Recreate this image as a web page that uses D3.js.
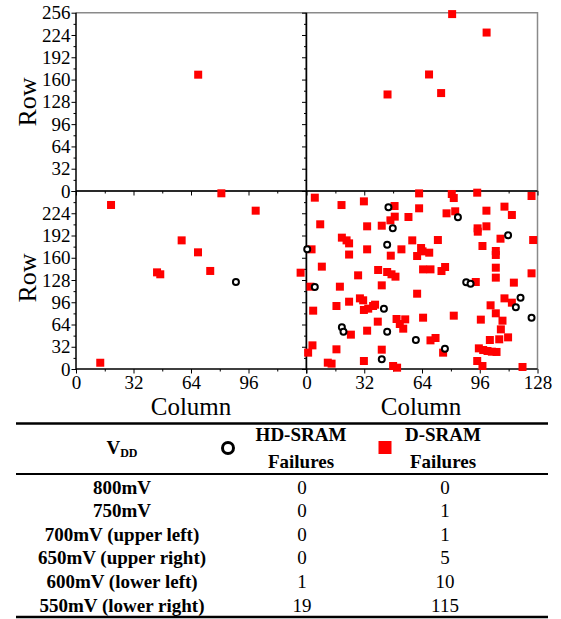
<!DOCTYPE html>
<html><head><meta charset="utf-8">
<script src="https://cdn.jsdelivr.net/npm/d3@7/dist/d3.min.js"></script>
<style>body{margin:0;background:#fff}svg{display:block}</style>
</head><body><svg id="c" width="561" height="619"></svg>
<script>
// ---- data ----
const yTickValues = [0, 32, 64, 96, 128, 160, 192, 224, 256];
const xTickValues = [0, 32, 64, 96, 128];

// D-SRAM failures [column, row]
const d700 = [[68, 167]];
const d650 = [[80.7, 254], [99.8, 227.5], [67.9, 167.3], [44.9, 138.6], [74.6, 140.6]];
const d600 = [[19.5, 235.9], [80.9, 252.7], [100, 227.7], [58.8, 185], [67.9, 167.8],
              [45.1, 139], [46.9, 136.2], [74.7, 141], [13.5, 9], [125, 138.5]];
const d550 = [
  [4.6,246.4],[19.4,235.8],[31.8,241.1],[62.4,252.6],[80.5,251.7],[81.6,245.9],[94.6,253.6],[124.7,248.8],
  [48.8,234.4],[62.4,231.1],[82.4,226.8],[77.6,223.9],[99.7,227.7],[109.7,233.5],[113.8,221.5],
  [7.6,208.1],[33.6,205.2],[41.7,206.1],[46.5,213.8],[48.9,219.1],[56.5,218.6],[94.8,202.3],[94.9,197.5],[99.7,205.2],
  [19.6,188.9],[22.2,185],[23.6,180.7],[33.6,172.1],[58.6,185],[72.8,185.5],[52.6,172.1],[63.5,174],
  [61.3,162.5],[64.3,169.2],[68,167.3],[46.7,163],[23.6,164.6],[2.8,172.1],[107.5,187.4],[125.6,185.5],
  [97.5,176.9],[104.9,169.7],[104.9,164],[8.5,147.2],[28.6,134.7],[39.7,142.4],[44.7,139.5],[47.1,136.2],
  [49.3,132.8],[64.6,143.3],[68.7,143.3],[74.8,140.9],[76.8,146.7],[104.9,145.7],[104.9,131.4],[124.7,137.6],
  [18.5,118.4],[41.7,120.3],[2.2,118.4],[93.8,125.1],[114.9,124.2],[61.3,108.3],[23.6,96.8],[16.6,90.6],
  [29.6,101.6],[31.4,98.8],[31.8,84.9],[34.2,86.8],[36.9,90.6],[38,92.5],[3.7,83.9],[102,91.6],
  [109.7,101.6],[113.8,95.4],[104.9,80.1],[108.6,69.5],[107.7,57],[106.8,42.7],[111.7,45.5],[101.6,41.7],
  [96.6,71],[81.6,76.7],[64.6,73.8],[49.9,71.9],[54.7,71.4],[51.7,64.7],[53.6,58],[39.5,68.1],
  [33.6,55.1],[24.6,49.4],[3.3,34],[0.9,23.5],[16.6,28.3],[41.7,27.8],[68.7,41.2],[71.5,44.6],
  [75.7,23.5],[95.5,29.7],[97.9,27.3],[100.3,25.9],[102.7,24.9],[105.3,24.5],[94.6,11.5],[97.5,4.3],
  [119.7,2.9],[31.8,11.5],[11.8,9.1],[13.9,7.7],[48,4.3],[50.2,1.9]
];

// HD-SRAM failures [column, row]
const hd600 = [[89, 125]];
const hd550 = [
  [45.4,232.5],[47.8,202.3],[44.7,178.8],[0.4,172.1],[83.9,218.1],[111.7,192.2],[4.6,117.9],
  [88.5,124.6],[90.9,122.7],[118.6,102.6],[116,88.7],[124.7,73.8],[42.9,86.8],[19.6,59.9],
  [20.5,53.7],[44.7,53.7],[60.6,41.7],[76.7,29.2],[41.7,13.9]
];

// table
const vddLabels = ["800mV", "750mV", "700mV (upper left)", "650mV (upper right)", "600mV (lower left)", "550mV (lower right)"];
const hdFailures = [0, 0, 0, 0, 1, 19];
const dFailures = [0, 1, 1, 5, 10, 115];

// ---- drawing ----
const svg = d3.select("#c");
const FONT = "Liberation Serif, Times New Roman, serif";

const xL = d3.scaleLinear().domain([0, 128]).range([76, 306]);
const xR = d3.scaleLinear().domain([0, 128]).range([306.5, 537.5]);
const yT = d3.scaleLinear().domain([0, 256]).range([191, 12.7]);
const yB = d3.scaleLinear().domain([0, 256]).range([369, 191]);

const panels = [
  {x: xL, y: yT, d: d700, hd: [], yLab: yTickValues, xLab: null},
  {x: xR, y: yT, d: d650, hd: [], yLab: null, xLab: null},
  {x: xL, y: yB, d: d600, hd: hd600, yLab: yTickValues.filter(v => v < 256), xLab: xTickValues.filter(v => v < 128)},
  {x: xR, y: yB, d: d550, hd: hd550, yLab: null, xLab: xTickValues}
];

const minorVals = d3.range(16, 256, 32);
const minorX = d3.range(16, 128, 32);

// frames (gray top & right)
panels.forEach(p => {
  const [x0, x1] = p.x.range(), [y0, y1] = p.y.range();
  svg.append("path")
    .attr("d", `M${x0},${y1}H${x1}V${y0}`)
    .attr("fill", "none").attr("stroke", "#8a8a8a").attr("stroke-width", 1.5);
});

panels.forEach(p => {
  const [x0, x1] = p.x.range(), [y0, y1] = p.y.range();
  const gy = svg.append("g").attr("transform", `translate(${x0},0)`);
  gy.call(d3.axisLeft(p.y).tickValues(minorVals).tickSize(2.5).tickFormat(""));
  const gy2 = svg.append("g").attr("transform", `translate(${x0},0)`);
  gy2.call(d3.axisLeft(p.y).tickValues(yTickValues).tickSize(4.5).tickPadding(1)
    .tickFormat(d => (p.yLab && p.yLab.includes(d)) ? d : ""));
  const gx = svg.append("g").attr("transform", `translate(0,${y0})`);
  gx.call(d3.axisBottom(p.x).tickValues(minorX).tickSize(2.5).tickFormat(""));
  const gx2 = svg.append("g").attr("transform", `translate(0,${y0})`);
  gx2.call(d3.axisBottom(p.x).tickValues(xTickValues).tickSize(4.5)
    .tickFormat(d => (p.xLab && p.xLab.includes(d)) ? d : ""));
  gx2.selectAll("text").attr("y", 20).attr("dy", 0);
  [gy, gy2, gx, gx2].forEach(g => {
    g.attr("font-family", FONT);
    g.select(".domain").remove();
    g.selectAll("line").attr("stroke", "#000").attr("stroke-width", 1);
    g.selectAll("text").attr("font-family", FONT).attr("font-size", 19).attr("fill", "#000");
  });
  svg.append("path").attr("d", `M${x0},${y1}V${y0}H${x1}`)
    .attr("fill", "none").attr("stroke", "#000").attr("stroke-width", 1.5);
});

// markers
panels.forEach(p => {
  svg.append("g").selectAll("rect").data(p.d).join("rect")
    .attr("x", d => p.x(d[0]) - 4).attr("y", d => p.y(d[1]) - 4)
    .attr("width", 8).attr("height", 8).attr("fill", "#ff0000");
});
panels.forEach(p => {
  svg.append("g").selectAll("circle").data(p.hd).join("circle")
    .attr("cx", d => p.x(d[0])).attr("cy", d => p.y(d[1])).attr("r", 3)
    .attr("fill", "#fff").attr("stroke", "#000").attr("stroke-width", 2);
});

// axis titles
[102, 278].forEach(cy => {
  svg.append("text").attr("transform", `translate(36,${cy}) rotate(-90)`)
    .attr("text-anchor", "middle").attr("font-family", FONT).attr("font-size", 26).text("Row");
});
[191, 421].forEach(cx => {
  svg.append("text").attr("x", cx).attr("y", 415).attr("text-anchor", "middle")
    .attr("font-family", FONT).attr("font-size", 25).text("Column");
});

// ---- table ----
const tX0 = 16, tX1 = 548;
svg.append("line").attr("x1", tX0).attr("x2", tX1).attr("y1", 423.5).attr("y2", 423.5).attr("stroke", "#000").attr("stroke-width", 2.5);
svg.append("line").attr("x1", tX0).attr("x2", tX1).attr("y1", 474).attr("y2", 474).attr("stroke", "#000").attr("stroke-width", 2);
svg.append("line").attr("x1", tX0).attr("x2", tX1).attr("y1", 617).attr("y2", 617).attr("stroke", "#000").attr("stroke-width", 2.5);

const colVdd = 122, colHD = 302, colD = 445;
const vdd = svg.append("text").attr("x", colVdd).attr("y", 454).attr("text-anchor", "middle")
  .attr("font-family", FONT).attr("font-size", 19).attr("font-weight", "bold");
vdd.append("tspan").text("V");
vdd.append("tspan").attr("font-size", 12).attr("dy", 3).text("DD");

svg.append("circle").attr("cx", 228).attr("cy", 448).attr("r", 5.5)
  .attr("fill", "#fff").attr("stroke", "#000").attr("stroke-width", 3);
svg.append("rect").attr("x", 378.5).attr("y", 441).attr("width", 13).attr("height", 13).attr("fill", "#ff0000");

[["HD-SRAM", "Failures", 301], ["D-SRAM", "Failures", 443]].forEach(([a, b, cx]) => {
  svg.append("text").attr("x", cx).attr("y", 441).attr("text-anchor", "middle")
    .attr("font-family", FONT).attr("font-size", 19).attr("font-weight", "bold").text(a);
  svg.append("text").attr("x", cx).attr("y", 468).attr("text-anchor", "middle")
    .attr("font-family", FONT).attr("font-size", 19).attr("font-weight", "bold").text(b);
});

const rowY = d3.scalePoint().domain(vddLabels).range([493.5, 611.5]);
vddLabels.forEach((lab, i) => {
  const y = rowY(lab);
  svg.append("text").attr("x", colVdd).attr("y", y).attr("text-anchor", "middle")
    .attr("font-family", FONT).attr("font-size", 19).attr("font-weight", "bold").text(lab);
  svg.append("text").attr("x", colHD).attr("y", y).attr("text-anchor", "middle")
    .attr("font-family", FONT).attr("font-size", 19).text(hdFailures[i]);
  svg.append("text").attr("x", colD).attr("y", y).attr("text-anchor", "middle")
    .attr("font-family", FONT).attr("font-size", 19).text(dFailures[i]);
});
</script></body></html>
